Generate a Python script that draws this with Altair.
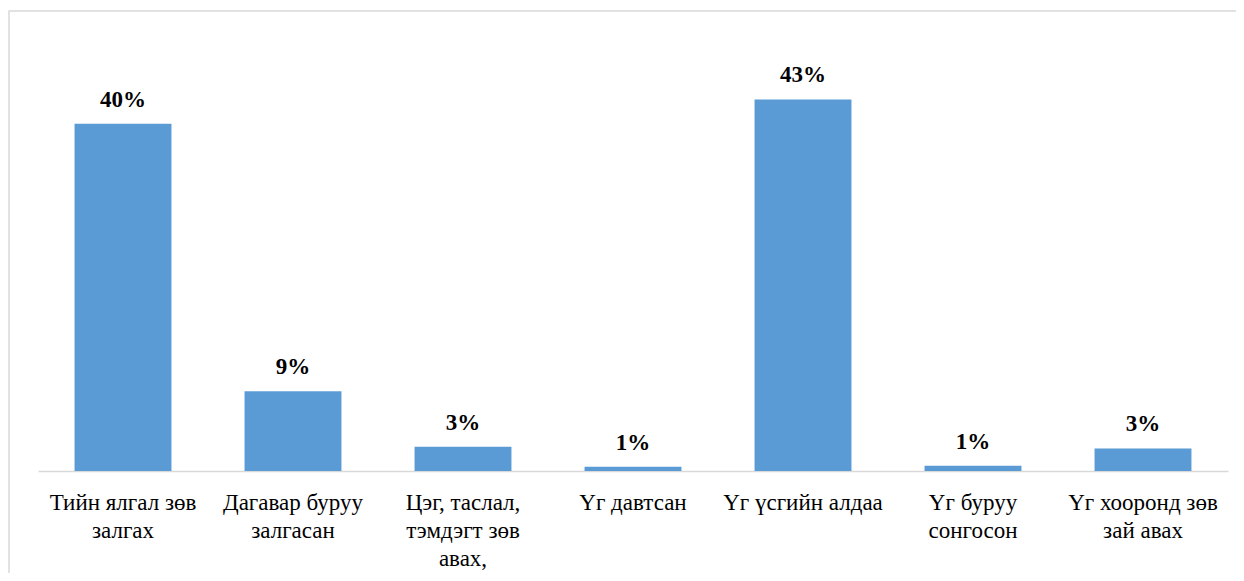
import altair as alt
import pandas as pd

categories = [
    "Тийн ялгал зөв\nзалгах",
    "Дагавар буруу\nзалгасан",
    "Цэг, таслал,\nтэмдэгт зөв\nавах,",
    "Үг давтсан",
    "Үг үсгийн алдаа",
    "Үг буруу\nсонгосон",
    "Үг хооронд зөв\nзай авах",
]
values = [40.0, 9.2, 2.8, 0.5, 42.8, 0.6, 2.6]
labels = ["40%", "9%", "3%", "1%", "43%", "1%", "3%"]

df = pd.DataFrame({"cat": categories, "val": values, "lbl": labels})

FONT = "Liberation Serif"

x = alt.X(
    "cat:N",
    sort=categories,
    title=None,
    scale=alt.Scale(paddingInner=0.43, paddingOuter=0.215),
    axis=alt.Axis(
        labelAngle=0,
        labelExpr="split(datum.label, '\\n')",
        labelFont=FONT,
        labelFontSize=23,
        labelColor="#000000",
        labelLineHeight=28,
        labelBaseline="top",
        labelPadding=20,
        ticks=False,
        domainColor="#d9d9d9",
        domainWidth=1.5,
        labelLimit=300,
    ),
)
y = alt.Y("val:Q", scale=alt.Scale(domain=[0, 50]), axis=None)

base = alt.Chart(df)

bars = base.mark_bar(color="#5b9bd5").encode(x=x, y=y)
text = base.mark_text(
    font=FONT, fontSize=23, fontWeight="bold", baseline="alphabetic", dy=-17, color="#000000"
).encode(x=x, y=y, text="lbl:N")

border = alt.Chart(pd.DataFrame({"a": [0]})).mark_rect(
    fill=None, stroke="#d9d9d9", strokeWidth=1.5
).encode(
    x=alt.value(-29), x2=alt.value(1400), y=alt.value(-26), y2=alt.value(800)
)

chart = alt.layer(border, bars, text).properties(
    width=1190,
    height=434,
    padding={"left": 30, "top": 29, "right": 8, "bottom": 102},
    autosize=alt.AutoSizeParams(type="none"),
    background="#ffffff",
).configure_view(stroke=None)

chart.save("out.html", embed_options={"renderer": "svg", "actions": False})
